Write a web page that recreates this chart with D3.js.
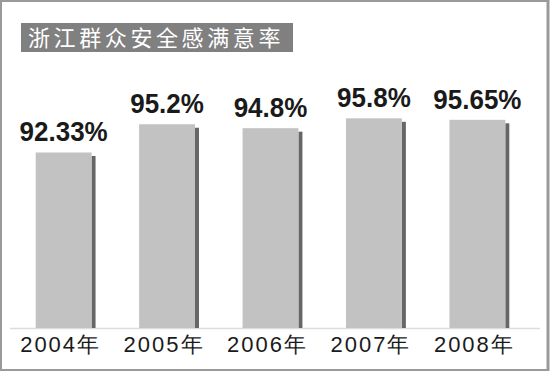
<!DOCTYPE html>
<html>
<head>
<meta charset="utf-8">
<script src="https://cdn.jsdelivr.net/npm/d3@7"></script>
<style>
body { margin: 0; background: #fff; }
svg { display: block; }
</style>
</head>
<body>
<div id="chart"></div>
<script>
// data
var title = "浙江群众安全感满意率";
var years = ["2004年", "2005年", "2006年", "2007年", "2008年"];
var rates = [92.33, 95.2, 94.8, 95.8, 95.65];
var rateLabels = ["92.33%", "95.2%", "94.8%", "95.8%", "95.65%"];

var width = 550, height = 371;
var base = 328;

var svg = d3.select("#chart").append("svg")
	.attr("width", width)
	.attr("height", height);

// frame
svg.append("rect")
	.attr("x", 1).attr("y", 1)
	.attr("width", width - 3).attr("height", height - 2)
	.attr("fill", "#fff")
	.attr("stroke", "#9a9a9a")
	.attr("stroke-width", 2);
svg.append("line")
	.attr("x1", width - 2).attr("x2", width - 2)
	.attr("y1", 0).attr("y2", height)
	.attr("stroke", "#9a9a9a").attr("stroke-width", 3);

// title box
svg.append("rect")
	.attr("x", 21).attr("y", 23)
	.attr("width", 272).attr("height", 29)
	.attr("fill", "#808080");
svg.append("text")
	.attr("x", 28).attr("y", 46)
	.attr("fill", "#fff")
	.style("font-family", "'Noto Sans CJK SC', sans-serif")
	.style("font-size", "22px")
	.style("letter-spacing", "3.6px")
	.text(title);

var x = d3.scaleBand()
	.domain(years)
	.range([15, 526])
	.paddingInner(0.46)
	.paddingOuter(0.2);

var y = d3.scaleLinear()
	.domain([74.5, 100])
	.range([base, 77]);

var data = years.map(function(d, i) {
	return {year: d, v: rates[i], label: rateLabels[i]};
});

// baseline
svg.append("line")
	.attr("x1", 10).attr("x2", 540)
	.attr("y1", base + 0.5).attr("y2", base + 0.5)
	.attr("stroke", "#dcdcdc").attr("stroke-width", 1.5);

var g = svg.selectAll("g.bar").data(data)
	.enter().append("g").attr("class", "bar");

// shadow
g.append("rect")
	.attr("x", function(d){return x(d.year) + x.bandwidth();})
	.attr("y", function(d){return y(d.v) + 3.5;})
	.attr("width", 4)
	.attr("height", function(d){return base - y(d.v) - 3.5;})
	.attr("fill", "#666");

g.append("rect")
	.attr("x", function(d){return x(d.year);})
	.attr("y", function(d){return y(d.v);})
	.attr("width", x.bandwidth())
	.attr("height", function(d){return base - y(d.v);})
	.attr("fill", "#c2c2c2");

g.append("text")
	.attr("transform", function(d){
		return "translate(" + (x(d.year) + x.bandwidth()/2) + "," + (y(d.v) - 11) + ") scale(1,1.08)";
	})
	.attr("text-anchor", "middle")
	.attr("fill", "#1a1a1a")
	.style("font-family", "'Liberation Sans', Arial, sans-serif")
	.style("font-weight", "bold")
	.style("font-size", "26px")
	.text(function(d){return d.label;});

g.append("text")
	.attr("x", function(d){return x(d.year) + x.bandwidth()/2 - 3;})
	.attr("y", 352)
	.attr("text-anchor", "middle")
	.attr("fill", "#1a1a1a")
	.style("font-family", "'Liberation Sans', Arial, sans-serif")
	.style("font-size", "22px")
	.style("letter-spacing", "2px")
	.text(function(d){return d.year;});
</script>
</body>
</html>
